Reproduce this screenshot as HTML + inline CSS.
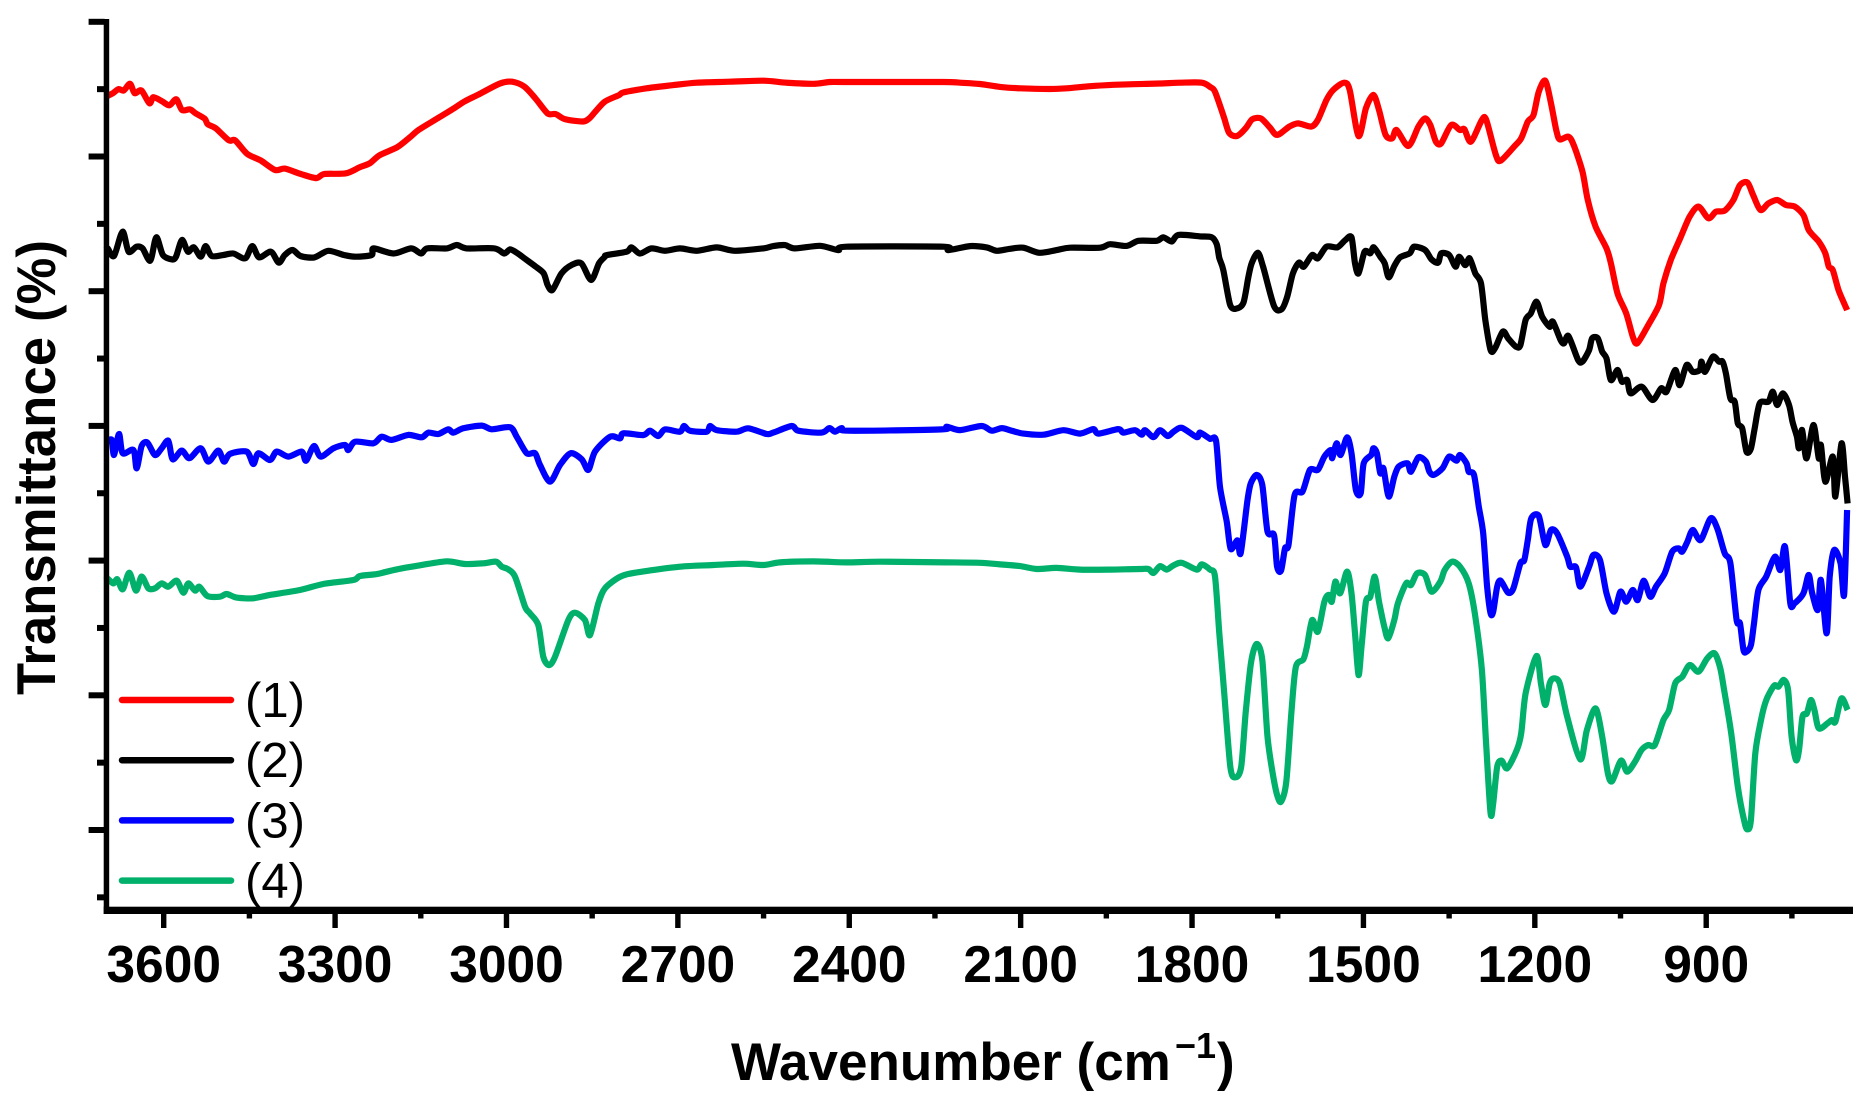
<!DOCTYPE html>
<html>
<head>
<meta charset="utf-8">
<title>FTIR transmittance spectra</title>
<style>
html,body{margin:0;padding:0;background:#fff;}
svg{display:block;}
text{font-family:"Liberation Sans",sans-serif;fill:#000;}
</style>
</head>
<body>
<svg id="chart" width="1866" height="1113" viewBox="0 0 1866 1113" xmlns="http://www.w3.org/2000/svg">
<rect x="0" y="0" width="1866" height="1113" fill="#fff"/>
<g id="plot-lines"></g>
<g id="axes"></g>
<text transform="translate(55,695) rotate(-90) scale(1,1.04)" font-size="52.5" font-weight="bold" textLength="455" lengthAdjust="spacing">Transmittance (%)</text>
<text x="731" y="1080" font-size="53" font-weight="bold">Wavenumber (cm</text>
<text x="1175" y="1058" font-size="36" font-weight="bold">−1</text>
<text x="1217" y="1080" font-size="53" font-weight="bold">)</text>
<g id="legend"></g>
</svg>
<script>
const xMajorTicks = [3600,3300,3000,2700,2400,2100,1800,1500,1200,900];
const xMinorTicks = [3450,3150,2850,2550,2250,1950,1650,1350,1050,750];
const yMajorTicks = [0,100,200,300,400,500,600];
const yMinorTicks = [-50,50,150,250,350,450,550];
const legendLabels = ["(1)","(2)","(3)","(4)"];

const series1 = [[3700,544],[3698,545],[3689,547],[3679,550],[3670,549],[3659,554],[3651,547],[3639,549],[3625,539.5],[3618,544],[3603,541],[3590,538],[3578,542.5],[3568,534.5],[3554,535],[3544,532],[3528,528],[3523,524],[3509,521],[3486,512],[3475,512],[3454,502],[3430,497],[3405,490],[3388,491],[3360,487],[3333,484],[3319,487],[3281,487.5],[3257,492],[3239,495],[3222,501],[3191,507],[3167,515],[3153,520],[3118,529],[3091,536],[3073,541],[3049,546],[3011,554.3],[2990,555.5],[2969,552],[2949,543],[2928,532],[2914,531.5],[2897,527.6],[2866,526],[2855,528.3],[2845,533],[2828,540.7],[2803,545.6],[2795,547.6],[2755,550.6],[2708,553],[2667,554.8],[2609,555.5],[2550,556.3],[2510,554.8],[2463,554],[2434,555.3],[2404,555.3],[2235,555.3],[2206,554.8],[2171,553.8],[2136,551.7],[2101,550.6],[2049,550.1],[2019,550.6],[1978,552.2],[1938,553.2],[1903,553.7],[1856,554.2],[1821,554.8],[1783,554.8],[1767.5,551.4],[1759.8,548],[1744.5,529.6],[1735.3,517.7],[1721.5,515.2],[1706.2,520.9],[1694.7,527.6],[1679.4,528.3],[1664.1,521.7],[1651.1,516],[1629.7,522.2],[1614.3,524.6],[1591.4,522.2],[1579.9,527.1],[1564.6,542],[1553,549.4],[1533.9,554.8],[1524,549.4],[1508.6,515.2],[1495.6,535.8],[1482.6,545.7],[1472.7,534.5],[1461.2,516],[1449.6,513.5],[1442,519.7],[1421.4,507.8],[1403.7,522.2],[1392.2,528.3],[1383,523.4],[1373.1,511],[1363.9,509.8],[1346.3,523.4],[1331,519.7],[1323.3,520.2],[1311.8,511],[1292.7,527.1],[1285,527.1],[1268.2,501.1],[1259.8,496.9],[1235.3,507.8],[1223.8,513.5],[1212.3,525.9],[1202.3,530.8],[1193.1,548.1],[1181.6,556.3],[1171.7,539.5],[1162.5,519.7],[1156.4,512.7],[1141.1,514.7],[1131.9,508.5],[1116.6,488.7],[1107.3,467.7],[1093.6,447.9],[1074.5,431.8],[1066.8,420.7],[1055.3,398.4],[1040,383.5],[1028.5,366.2],[1020.8,361.3],[1003.2,373.6],[982.6,389.7],[974.9,405.8],[961.9,423.2],[944.3,440.5],[929,455.3],[913.6,462.8],[896,454.1],[883,459],[867.7,459.8],[852.4,467.7],[840.9,478.8],[827.8,480.6],[817.9,471.4],[804.9,460.3],[791.1,465.2],[775.8,467.7],[760.4,464],[745.1,462.8],[729.8,456.6],[720.6,445.4],[703,436.8],[691.5,428.1],[685.4,418.2],[678.5,415.7],[668.5,400.9],[658.6,391],[653.3,386]];

const series2 = [[3700,431],[3698,431.8],[3687,426.1],[3672,444.2],[3661.5,429.3],[3647.7,433],[3637,431.8],[3623.5,422.7],[3613,440],[3601.4,426.9],[3585.4,423.6],[3578.5,425.6],[3568,438],[3557.7,429.3],[3547.4,432.6],[3535,425.6],[3526.6,433.5],[3516,426.1],[3495.5,426.9],[3478,428],[3457.4,424.4],[3445,433.5],[3433,425.1],[3412.4,429.3],[3398.6,421.2],[3388,426.9],[3374.4,430.6],[3360.5,426.1],[3336.3,425.1],[3312,430],[3284.4,426.9],[3263.6,425.6],[3236,426.9],[3232.5,431.8],[3198,428],[3166.7,431.8],[3149.4,428],[3139,431.8],[3104.4,431.8],[3087,434.3],[3070,431.8],[3021,431.8],[3004,428],[2993.7,431],[2980,428],[2966,423.6],[2948.7,418.2],[2934.8,413.2],[2928,404.6],[2919.6,400.9],[2903.7,413.2],[2886.4,419.4],[2869,420.7],[2851.8,408.3],[2838,420.7],[2827.6,425.6],[2824.7,426.8],[2789.7,429.3],[2781,432.5],[2766.3,428],[2745.9,431.8],[2722.5,430],[2696.3,431.8],[2667.1,430],[2632.1,432.5],[2600,430],[2550.4,431.8],[2532.9,433.5],[2512.5,434.2],[2495,431.8],[2451.2,433.7],[2419.1,430.5],[2404.5,433],[2235.3,433],[2226.6,430.5],[2188.6,433.5],[2159.5,432.5],[2141.9,430],[2118.6,431.5],[2095.3,432.3],[2067.2,428.5],[2036.9,430.5],[2013.6,432.3],[1961,432.3],[1943.6,434.9],[1914.4,433.6],[1893.9,437.4],[1861.9,437.4],[1850.2,440],[1835.6,436.9],[1823.9,441.8],[1786,440.7],[1765.6,440],[1756.8,434.9],[1752.2,424.6],[1745.2,415.7],[1733.5,390.1],[1723,387],[1710.1,391.4],[1701.4,410.6],[1695.5,420.8],[1684.8,428.6],[1675.6,418.2],[1656.5,389],[1643.4,386.5],[1633.5,395.9],[1623.5,413.2],[1612.8,421.2],[1604.4,418.2],[1589.8,426.9],[1579.9,424.4],[1564.6,433],[1545.4,432.6],[1531.6,438],[1520.9,440],[1514.8,420.7],[1508.6,413.2],[1497.9,429.3],[1488,428.1],[1482,432.6],[1470.4,425.6],[1462.7,420.7],[1455.8,410.3],[1445.9,418.7],[1436,425.1],[1419,428.1],[1411.4,433],[1392.2,430.6],[1380.8,423.6],[1369.3,421.2],[1363.9,428.1],[1350.1,426.9],[1338.7,418.2],[1332.5,425.6],[1321.8,419.4],[1314.1,424.4],[1304.2,413.2],[1294.2,405.8],[1286.6,378.6],[1277.4,356.3],[1269.7,357.6],[1256,370],[1246.7,365],[1233,358.8],[1225.3,360],[1216.1,378.6],[1207,383.5],[1197,392.2],[1187,381],[1174,373.6],[1168.6,377.4],[1154.8,363.8],[1148.7,361.3],[1141.1,366.7],[1124.2,348.9],[1116.6,347.7],[1105,356.3],[1099.7,365],[1089.8,365],[1082,355.1],[1074.5,350.1],[1066.8,334],[1055.3,341.5],[1047.6,332.8],[1038.4,334],[1032.3,324.2],[1013,329.1],[994,319.2],[978.7,327.9],[969.5,325.4],[954.2,341.5],[946.6,330.3],[934.3,345.2],[923.6,340.2],[911.3,341.5],[908.3,347.7],[902.2,340.2],[888.4,351.4],[877.7,347.7],[871.5,347.7],[865.5,339],[857.7,320.4],[850.1,318],[844.7,301.9],[837,298.2],[829.4,280.9],[822,283],[815.6,297],[806.4,316.7],[791.1,318],[783.4,325.4],[775.8,315.5],[765.8,324.2],[755,315.5],[748.9,303.1],[741.3,292],[737.5,283.4],[732.1,297],[724.5,275.9],[712.2,300.7],[703,275.9],[699.2,285.8],[691.5,258.6],[678.5,277.2],[673.9,247.5],[663.2,287],[657,262.3],[652.5,242.5]];

const series3 = [[3700,288],[3698.7,288.3],[3691,289.6],[3687,278.4],[3678.2,294],[3671.8,279.7],[3653,282.1],[3647.3,268.5],[3638.6,285.1],[3628.6,287.6],[3615.2,278.4],[3603.6,283.4],[3591.9,289],[3584.3,275.2],[3568.5,281.7],[3555.1,276],[3535.3,283.4],[3521.9,273.5],[3504.4,281.7],[3494.4,273.5],[3484,279.2],[3454.8,280.9],[3443.1,271.7],[3434.3,279.7],[3413.9,274.7],[3402.2,280.9],[3381.8,277.2],[3358.5,280.9],[3351,274.2],[3337,285.1],[3325.2,277.2],[3303,283.4],[3282.6,285.8],[3276.8,282.1],[3265,288.3],[3233,287.1],[3218.4,292],[3200.9,289.6],[3171.7,293.3],[3148.4,291.5],[3136.7,295],[3119.2,294],[3102,297.5],[3093,295],[3075.5,298.2],[3043.4,300.2],[3025.9,297.5],[2993.8,299],[2982.1,292],[2964.6,279.7],[2950,279.7],[2941.3,271],[2923.8,258.6],[2906.3,271],[2887.6,279.7],[2868.3,275.2],[2856.7,267.3],[2845,280.9],[2818.7,292],[2801.3,290.7],[2795.5,294.5],[2760.5,293.2],[2748.8,296.4],[2734.2,292.5],[2722.5,297.4],[2696.3,295.7],[2689.3,299.9],[2678.8,296.4],[2649.6,295.7],[2643.8,299.9],[2632.1,296.9],[2597.1,295.7],[2576.7,298.2],[2544.6,294],[2533,295],[2500.8,299.9],[2489.2,296.4],[2448.3,295],[2434.9,298.4],[2424.9,295.7],[2413.3,298.4],[2401.6,296.4],[2238.2,297.4],[2229.5,299.4],[2206.2,296.9],[2168.2,299.9],[2150.7,296.4],[2133.2,298.4],[2118.6,296.8],[2095.3,294.3],[2060.2,293.5],[2025.2,296.8],[1996,294.3],[1972.7,297.6],[1964,294.3],[1929,297.6],[1920.2,295],[1899.8,296.8],[1888.1,293.5],[1882.3,296.8],[1867.7,291.7],[1856,296.8],[1842.6,292.5],[1832.7,295.6],[1818.1,298.6],[1791.8,291.7],[1786,295],[1768.5,290.4],[1758,289.1],[1751,254.7],[1739.3,229.1],[1732.3,208.7],[1720.6,215],[1714.8,205.6],[1703.1,244.4],[1697.3,257.2],[1686.8,263.6],[1677.1,256.1],[1667.9,221.5],[1656.5,219],[1651.1,195.5],[1644.2,192.5],[1637.3,209.1],[1631.2,211.6],[1620.5,248.7],[1606.7,251.2],[1593.7,267.3],[1579.9,267.3],[1568.4,277.2],[1556.9,282.1],[1554.6,276],[1546.9,287.1],[1540,278.4],[1528.6,291.5],[1520.9,279.7],[1513.2,252.4],[1504.8,250],[1499.5,272.2],[1486.4,278.4],[1482.6,283.4],[1476.5,279.7],[1470.4,264.8],[1465,268.5],[1455.8,247.5],[1445.9,262.3],[1438.2,269.8],[1422.9,272.2],[1416.8,266],[1403.7,276.7],[1390.7,273.5],[1384.6,266],[1377,263.6],[1361.6,268.5],[1350.1,277.2],[1337.1,274.2],[1331,278.4],[1319.5,272.2],[1315.7,266],[1306.5,263.6],[1298.1,240],[1290.4,220.3],[1283.5,180.7],[1277.4,160.9],[1272.8,162.1],[1265.9,180.7],[1259.8,185.1],[1246.7,176.2],[1237.5,179.4],[1225.3,198],[1218.4,200.4],[1212.3,215.3],[1206.2,231.4],[1193.1,233.1],[1181.6,211.6],[1171.7,222.7],[1161,220.3],[1143.4,202.9],[1138,195.5],[1128,195],[1120.4,180.7],[1105,195.5],[1097.4,204.2],[1085.9,200.4],[1074.5,175.7],[1061.4,162.1],[1050,176.9],[1040,169.5],[1028.5,178.2],[1020,170.7],[1009.4,185.1],[997.9,173.2],[987.9,180.7],[972.6,190.6],[959.6,206.6],[948.1,209.1],[942,206.6],[933,214],[923.6,222.7],[909.8,215.3],[892.2,231.4],[880.7,224],[867.7,205.4],[857.7,198],[846.8,155.9],[840.9,153.4],[834.7,133.6],[829.4,132.4],[821.7,137.3],[816.4,153.4],[808.7,178.2],[795,188.1],[779.6,202.9],[770.4,193],[762,210.4],[752.8,168.3],[745.2,168.3],[729.8,175.7],[720.6,189.3],[714.5,175.7],[704.6,163.3],[699.2,185.6],[689.2,146],[683.8,188.1],[676.2,207.9],[664.7,198],[658.6,174.5],[653.3,237.6]];

const series4 = [[3700,186],[3698.7,186.8],[3688.2,183.1],[3681.2,186.1],[3671.8,178.7],[3660.2,191],[3648.5,177.7],[3638.6,188.1],[3626.9,179.4],[3615.2,179.4],[3603.6,183.1],[3591.9,180.6],[3577.3,185.1],[3565.6,176.2],[3556.9,183.1],[3545.2,177.7],[3537.6,180.6],[3523.6,173.7],[3501.4,173.2],[3489.8,175.2],[3472.3,172.5],[3443.1,172],[3413.9,174.5],[3361.4,178.2],[3320.6,182.6],[3268,185.6],[3256.4,188.6],[3227.2,190],[3192.2,193.5],[3151.3,196.5],[3104.6,199.5],[3072.6,197.5],[3040.5,198],[3018.3,199.2],[3008.4,195.5],[2996.7,193.5],[2985,188.1],[2967.5,165.8],[2958.9,160.8],[2944.3,152.1],[2935.5,128.6],[2925.6,122.4],[2915.1,128.6],[2891.8,155.8],[2880.1,161.3],[2862.6,155.8],[2853.8,144.7],[2839.3,168.2],[2827.6,179.4],[2801.3,188],[2772.2,191.2],[2696.3,195.5],[2637.9,196.7],[2585.4,197.7],[2550.4,196.7],[2521.2,198.7],[2462.9,199.4],[2404.5,198.7],[2346.2,199.2],[2229.5,198.7],[2171.1,198.4],[2136,197.2],[2101,195.9],[2071.9,193.8],[2036.9,194.6],[1996,193.3],[1943.6,193.3],[1891,193.8],[1876.4,193.8],[1867.7,190.8],[1856,195.9],[1844.4,193.3],[1832.7,196.4],[1818.1,198.4],[1791.8,193.3],[1783.1,197.2],[1768.5,193.3],[1759.8,188.1],[1752.2,146],[1744.5,106.4],[1733,47],[1723.8,39.1],[1713.9,47],[1706.2,86.6],[1697,123.7],[1687.1,138.1],[1677.1,126.2],[1667.9,69.3],[1658.8,42],[1651.1,26],[1644.2,21],[1635,35.9],[1625.8,89.1],[1618.2,121.2],[1605.1,126.7],[1599,136.1],[1589.8,155.9],[1579.9,147.2],[1568.4,169.5],[1560.7,174.5],[1555.4,169.5],[1549.2,184.4],[1540.8,175.7],[1528.6,191.8],[1520.9,175.7],[1514.8,146],[1508.6,115.1],[1503.3,136.1],[1495.6,169.5],[1488,173.2],[1480.3,188.1],[1472.7,169.5],[1463.5,150.9],[1456.6,142.3],[1445.9,155.9],[1439.7,168.3],[1425.2,183.1],[1416.8,181.9],[1406,190.6],[1392.2,189.3],[1380.8,176.9],[1365.4,184.4],[1357.8,193],[1344.8,199.2],[1331,195.5],[1315.7,183.1],[1304.2,158.4],[1292.7,118.8],[1285,61.9],[1277.4,12.4],[1272.8,19.8],[1265.9,47],[1258.2,51.5],[1248.3,45.8],[1231.5,59.4],[1223.8,71.8],[1216.1,101.4],[1197,129.2],[1189.3,108.9],[1181.6,92.8],[1174,108.9],[1166.4,112.6],[1156.4,108.9],[1143.4,84.1],[1120.4,52.4],[1108.9,74.2],[1093.6,90.3],[1082.1,69.3],[1072.1,42],[1064.5,36.4],[1049.2,51.5],[1038.4,43.3],[1024.7,50.7],[1013.2,59.4],[1001.7,63.1],[990,63.1],[974.9,81.6],[964.9,89.1],[954.2,108.9],[941.9,113.8],[928.9,122.5],[913.6,117.5],[898.3,127.4],[885.3,131.2],[875.4,120],[867.7,101.4],[856.2,71.8],[844.7,32.2],[833.2,6.2],[827.8,0.5],[821.7,7.4],[814.1,56.9],[804.1,81.6],[794.9,96.5],[781.1,107.1],[773.5,106.4],[764.3,111.4],[756.6,103.9],[750.5,69.3],[742.9,51.9],[737.5,59.4],[731.4,84.1],[723.7,86.6],[716.8,96.5],[710.7,89.1],[703,75.5],[687.7,79.2],[680,81.6],[673.9,80.4],[663.2,97.7],[652.5,89.1]];

const SVGNS = "http://www.w3.org/2000/svg";
function xScale(w){ return 163.7 + (3600 - w) * 0.5713; }
function yScale(v){ return 830 - v * 1.347; }
function mk(tag, attrs, parent){
  const el = document.createElementNS(SVGNS, tag);
  for (const k in attrs) el.setAttribute(k, attrs[k]);
  parent.appendChild(el);
  return el;
}
function smoothPath(pts){
  const k = 0.14;
  let d = 'M' + pts[0][0].toFixed(1) + ' ' + pts[0][1].toFixed(1);
  for (let i = 0; i < pts.length - 1; i++) {
    const p0 = pts[Math.max(i - 1, 0)];
    const p1 = pts[i];
    const p2 = pts[i + 1];
    const p3 = pts[Math.min(i + 2, pts.length - 1)];
    const c1x = p1[0] + (p2[0] - p0[0]) * k;
    const c1y = p1[1] + (p2[1] - p0[1]) * k;
    const c2x = p2[0] - (p3[0] - p1[0]) * k;
    const c2y = p2[1] - (p3[1] - p1[1]) * k;
    d += 'C' + c1x.toFixed(1) + ' ' + c1y.toFixed(1) + ' ' + c2x.toFixed(1) + ' ' + c2y.toFixed(1) + ' ' + p2[0].toFixed(1) + ' ' + p2[1].toFixed(1);
  }
  return d;
}

const lineLayer = document.getElementById('plot-lines');
const seriesList = [series1, series2, series3, series4];
const seriesColors = ['#ff0000', '#000000', '#0000ff', '#00b06b'];
seriesList.forEach(function(data, i){
  const pts = data.map(function(p){ return [xScale(p[0]), yScale(p[1])]; });
  const line = mk('path', {d: smoothPath(pts), fill: 'none', stroke: seriesColors[i], 'stroke-width': 6.2, 'stroke-linejoin': 'round', 'stroke-linecap': 'butt'}, lineLayer);
  
  
});

const axes = document.getElementById('axes');
const yAxisLine = mk('rect', {x: 103.7, y: 19, width: 5.5, height: 895, fill: '#000'}, axes);


const xAxisLine = mk('rect', {x: 103.7, y: 906.7, width: 1749.3, height: 7.3, fill: '#000'}, axes);



yMajorTicks.forEach(function(v){
  const t = mk('rect', {x: 88.6, y: yScale(v) - 3, width: 16, height: 6, fill: '#000'}, axes);
  
  
});
yMinorTicks.forEach(function(v){
  const t = mk('rect', {x: 97, y: yScale(v) - 3, width: 8, height: 6, fill: '#000'}, axes);
  
  
});
xMajorTicks.forEach(function(w){
  const x = xScale(w);
  const t = mk('rect', {x: x - 2.7, y: 913, width: 5.4, height: 15, fill: '#000'}, axes);
  
  
  const label = mk('text', {x: x, y: 982, 'font-size': 51.5, 'font-weight': 'bold', 'text-anchor': 'middle'}, axes);
  label.textContent = String(w);
  
  
});
xMinorTicks.forEach(function(w){
  const t = mk('rect', {x: xScale(w) - 2.7, y: 913, width: 5.4, height: 5.5, fill: '#000'}, axes);
  
  
});

const legend = document.getElementById('legend');
legendLabels.forEach(function(lab, i){
  const y = 700 + i * 60.2;
  const swatch = mk('line', {x1: 122, x2: 231, y1: y, y2: y, stroke: seriesColors[i], 'stroke-width': 6.5, 'stroke-linecap': 'round'}, legend);
  
  
  const text = mk('text', {x: 245, y: y + 17, 'font-size': 49}, legend);
  text.textContent = lab;
  
  
});
</script>
</body>
</html>
